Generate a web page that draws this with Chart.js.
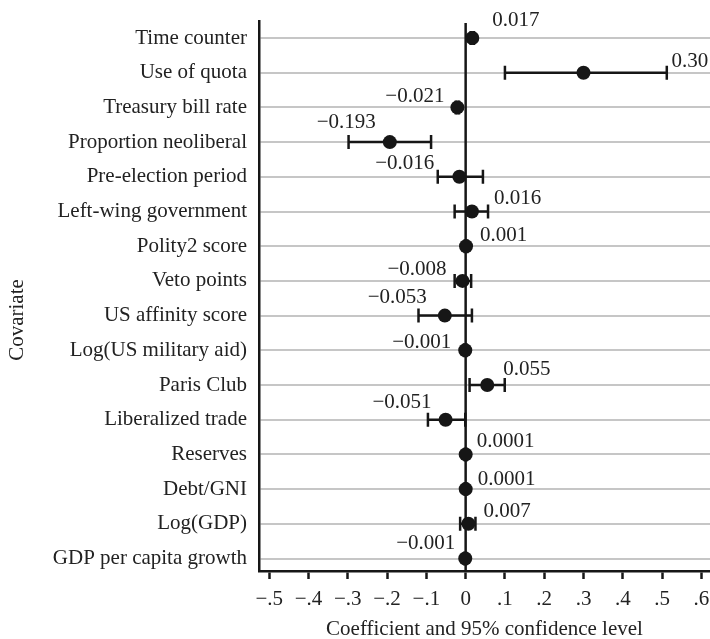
<!DOCTYPE html>
<html>
<head>
<meta charset="utf-8">
<script src="https://cdn.jsdelivr.net/npm/chart.js@4.4.1/dist/chart.umd.min.js"></script>
<style>
  html, body { margin: 0; padding: 0; background: #fff; }
  #wrap { width: 710px; height: 639px; }
</style>
</head>
<body>
<div id="wrap"><canvas id="c" width="710" height="639"></canvas></div>
<script>
// Covariates, top to bottom
const covariates = [
  "Time counter", "Use of quota", "Treasury bill rate", "Proportion neoliberal",
  "Pre-election period", "Left-wing government", "Polity2 score", "Veto points",
  "US affinity score", "Log(US military aid)", "Paris Club", "Liberalized trade",
  "Reserves", "Debt/GNI", "Log(GDP)", "GDP per capita growth"
];

// Point estimates
const coefficients = [
  0.017, 0.30, -0.021, -0.193,
  -0.016, 0.016, 0.001, -0.008,
  -0.053, -0.001, 0.055, -0.051,
  0.0001, 0.0001, 0.007, -0.001
];

// 95% confidence bounds
const ciLower = [
  0.013, 0.100, -0.025, -0.298,
  -0.071, -0.028, -0.002, -0.028,
  -0.120, -0.004, 0.010, -0.096,
  -0.002, -0.002, -0.014, -0.003
];
const ciUpper = [
  0.021, 0.512, -0.017, -0.088,
  0.044, 0.057, 0.004, 0.014,
  0.016, 0.002, 0.0995, -0.001,
  0.002, 0.002, 0.025, 0.001
];

// Printed coefficient labels
const coefLabels = [
  "0.017", "0.30", "\u22120.021", "\u22120.193",
  "\u22120.016", "0.016", "0.001", "\u22120.008",
  "\u22120.053", "\u22120.001", "0.055", "\u22120.051",
  "0.0001", "0.0001", "0.007", "\u22120.001"
];

// X axis ticks
const xTickValues = [-0.5, -0.4, -0.3, -0.2, -0.1, 0, 0.1, 0.2, 0.3, 0.4, 0.5, 0.6];
const xTickLabels = ["\u2212.5", "\u2212.4", "\u2212.3", "\u2212.2", "\u2212.1", "0", ".1", ".2", ".3", ".4", ".5", ".6"];

// Where each coefficient label sits relative to its dot (pixels: dx, dy)
const labelOffsets = [
  [20, -18], [88, -11], [-13, -11], [-14, -20],
  [-25, -13], [22, -13], [14, -11], [-16, -11],
  [-18, -18], [-14, -8], [16, -16], [-14, -17],
  [11, -13], [12, -10], [15, -12], [-10, -15]
];

const FONT = '"Liberation Serif", "Times New Roman", serif';
const INK = '#161616';
const TEXT = '#222222';

const overlay = {
  id: 'coefOverlay',
  beforeDatasetsDraw(chart) {
    const { ctx, chartArea } = chart;
    const x = chart.scales.x, y = chart.scales.y;
    ctx.save();
    ctx.strokeStyle = INK;
    ctx.lineWidth = 2.5;
    // vertical reference line at zero
    const x0 = x.getPixelForValue(0);
    ctx.beginPath();
    ctx.moveTo(x0, chartArea.top + 2);
    ctx.lineTo(x0, chartArea.bottom);
    ctx.stroke();
    // confidence intervals with end caps
    covariates.forEach((_, i) => {
      const yp = y.getPixelForValue(i + 1);
      const xl = x.getPixelForValue(ciLower[i]);
      const xu = x.getPixelForValue(ciUpper[i]);
      ctx.beginPath();
      ctx.moveTo(xl, yp); ctx.lineTo(xu, yp);
      ctx.moveTo(xl, yp - 7); ctx.lineTo(xl, yp + 7);
      ctx.moveTo(xu, yp - 7); ctx.lineTo(xu, yp + 7);
      ctx.stroke();
    });
    ctx.restore();
  },
  afterDatasetsDraw(chart) {
    const { ctx } = chart;
    const x = chart.scales.x, y = chart.scales.y;
    ctx.save();
    ctx.font = '21px ' + FONT;
    ctx.fillStyle = TEXT;
    ctx.textBaseline = 'middle';
    coefficients.forEach((v, i) => {
      const [dx, dy] = labelOffsets[i];
      ctx.textAlign = dx > 0 ? 'left' : 'right';
      ctx.fillText(coefLabels[i], x.getPixelForValue(v) + dx, y.getPixelForValue(i + 1) + dy);
    });
    // y axis title
    ctx.translate(17, 320);
    ctx.rotate(-Math.PI / 2);
    ctx.textAlign = 'center';
    ctx.fillText('Covariate', 0, 0);
    ctx.restore();
  }
};

new Chart(document.getElementById('c'), {
  type: 'scatter',
  data: {
    datasets: [{
      data: coefficients.map((v, i) => ({ x: v, y: i + 1 })),
      pointRadius: 7,
      pointHoverRadius: 7,
      backgroundColor: INK,
      borderWidth: 0
    }]
  },
  options: {
    responsive: false,
    animation: false,
    devicePixelRatio: 1,
    layout: { autoPadding: false, padding: { top: 21, right: 0, bottom: 0, left: 0 } },
    plugins: { legend: { display: false }, tooltip: { enabled: false } },
    scales: {
      x: {
        type: 'linear',
        min: -0.526,
        max: 0.622,
        afterBuildTicks(scale) { scale.ticks = xTickValues.map(v => ({ value: v })); },
        afterFit(scale) {
          scale.height = 68;
          scale.paddingLeft = 0; scale.paddingRight = 0;
        },
        ticks: {
          autoSkip: false, maxRotation: 0, padding: 8,
          color: TEXT, font: { family: FONT, size: 21 },
          callback: (v, i) => xTickLabels[i]
        },
        grid: {
          drawOnChartArea: false, drawTicks: true, tickLength: 8,
          tickColor: INK, tickWidth: 2.5
        },
        border: { color: INK, width: 2.5 },
        title: {
          display: true, text: 'Coefficient and 95% confidence level',
          color: TEXT, font: { family: FONT, size: 21, lineHeight: 0.9 },
          padding: { top: 0, bottom: 0 }
        }
      },
      y: {
        type: 'linear',
        reverse: true,
        min: 0.51,
        max: 16.36,
        afterBuildTicks(scale) { scale.ticks = covariates.map((_, i) => ({ value: i + 1 })); },
        afterFit(scale) {
          scale.width = 259;
          scale.paddingTop = 0; scale.paddingBottom = 0;
        },
        ticks: {
          autoSkip: false, padding: 12,
          color: TEXT, font: { family: FONT, size: 21 },
          callback: (v) => covariates[Math.round(v) - 1]
        },
        grid: { color: '#c6c6c6', lineWidth: 2, drawTicks: false },
        border: { color: INK, width: 2.5 }
      }
    }
  },
  plugins: [overlay]
});
</script>
</body>
</html>
